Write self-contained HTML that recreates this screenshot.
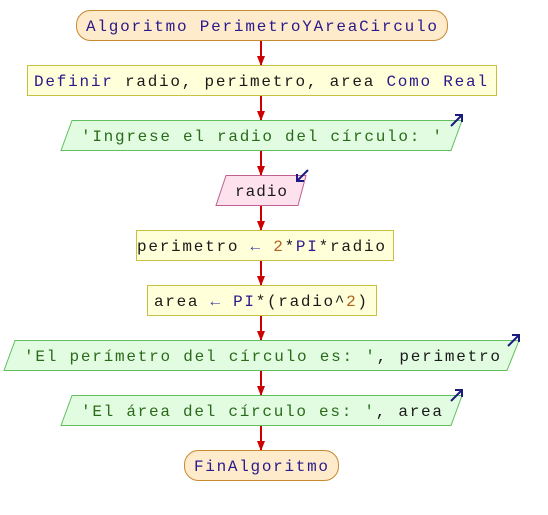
<!DOCTYPE html>
<html><head><meta charset="utf-8"><style>
html,body{margin:0;padding:0;background:#fff;width:548px;height:515px;overflow:hidden}
text{font-family:"Liberation Mono","DejaVu Sans Mono",monospace;font-size:16px}
.k{fill:#2a1a8a}.d{fill:#1a1a1a}.s{fill:#2a6a1a}.n{fill:#b06020}.a{fill:#4a4aa0}
</style></head><body>
<svg width="548" height="515" xmlns="http://www.w3.org/2000/svg">
<defs><marker id="ah" markerWidth="10" markerHeight="8" refX="9" refY="4" orient="auto" markerUnits="userSpaceOnUse"><path d="M0,0 L10,4 L0,8z" fill="#cc0000"/></marker></defs>
<g stroke="#cc0000" stroke-width="2" marker-end="url(#ah)">
<line x1="261" y1="40" x2="261" y2="65"/>
<line x1="261" y1="95" x2="261" y2="120"/>
<line x1="261" y1="150" x2="261" y2="175"/>
<line x1="261" y1="205" x2="261" y2="230"/>
<line x1="261" y1="260" x2="261" y2="285"/>
<line x1="261" y1="315" x2="261" y2="340"/>
<line x1="261" y1="370" x2="261" y2="395"/>
<line x1="261" y1="425" x2="261" y2="450"/>
</g>
<rect x="76.5" y="10.5" width="371" height="30" rx="14" fill="#fdebcc" stroke="#c88a30"/>
<text x="86" y="31" textLength="351" lengthAdjust="spacing" class="k">Algoritmo PerimetroYAreaCirculo</text>
<rect x="27.5" y="65.5" width="469" height="30" fill="#ffffda" stroke="#c8c040"/>
<text x="34" y="86" textLength="453" lengthAdjust="spacing"><tspan class="k">Definir</tspan><tspan class="d"> radio, perimetro, area </tspan><tspan class="k">Como Real</tspan></text>
<polygon points="72,120.5 462,120.5 451,150.5 61,150.5" fill="#e2fce2" stroke="#60c060"/>
<text x="81" y="141" textLength="361" lengthAdjust="spacing" class="s">'Ingrese el radio del círculo: '</text>
<polygon points="226,175.5 306,175.5 298,205.5 216,205.5" fill="#fde2ee" stroke="#c06090"/>
<text x="235" y="196" textLength="52" lengthAdjust="spacing" class="d">radio</text>
<rect x="136.5" y="230.5" width="257" height="30" fill="#ffffda" stroke="#c8c040"/>
<text x="137" y="251" textLength="248" lengthAdjust="spacing"><tspan class="d">perimetro </tspan><tspan class="a">←</tspan><tspan class="d"> </tspan><tspan class="n">2</tspan><tspan class="d">*</tspan><tspan class="k">PI</tspan><tspan class="d">*radio</tspan></text>
<rect x="147.5" y="285.5" width="229" height="30" fill="#ffffda" stroke="#c8c040"/>
<text x="154" y="306" textLength="213" lengthAdjust="spacing"><tspan class="d">area </tspan><tspan class="a">←</tspan><tspan class="d"> </tspan><tspan class="k">PI</tspan><tspan class="d">*(radio^</tspan><tspan class="n">2</tspan><tspan class="d">)</tspan></text>
<polygon points="15,340.5 519,340.5 507,370.5 4,370.5" fill="#e2fce2" stroke="#60c060"/>
<text x="24" y="361" textLength="476" lengthAdjust="spacing"><tspan class="s">'El perímetro del círculo es: '</tspan><tspan class="d">, perimetro</tspan></text>
<polygon points="72,395.5 462,395.5 451,425.5 61,425.5" fill="#e2fce2" stroke="#60c060"/>
<text x="81" y="416" textLength="361" lengthAdjust="spacing"><tspan class="s">'El área del círculo es: '</tspan><tspan class="d">, area</tspan></text>
<rect x="184.5" y="450.5" width="154" height="30" rx="14" fill="#fdebcc" stroke="#c88a30"/>
<text x="194" y="471" textLength="134" lengthAdjust="spacing" class="k">FinAlgoritmo</text>
<g stroke="#1a1a80" stroke-width="2" fill="none">
<path d="M451,126 L462,115 M455,115 L462,115 L462,122"/>
<path d="M308,170 L297,181 M297,174 L297,181 L304,181"/>
<path d="M508,346 L519,335 M512,335 L519,335 L519,342"/>
<path d="M451,401 L462,390 M455,390 L462,390 L462,397"/>
</g>
</svg>
</body></html>
